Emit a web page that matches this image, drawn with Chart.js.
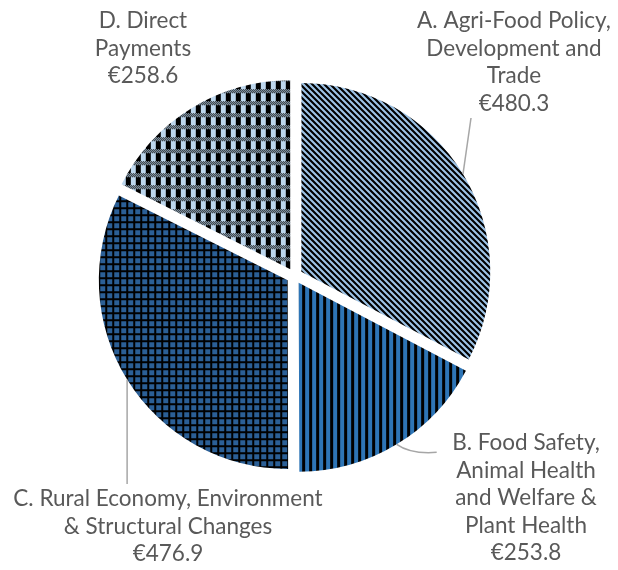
<!DOCTYPE html>
<html>
<head>
<meta charset="utf-8">
<script src="https://cdn.jsdelivr.net/npm/chart.js@4"></script>
<style>
  html, body { margin: 0; padding: 0; background: #fff; }
  #wrap { width: 618px; height: 570px; position: relative; }
</style>
</head>
<body>
<div id="wrap"><canvas id="budget-pie"></canvas></div>
<script>
// Budget by programme (€m)
const categories = ['A', 'B', 'C', 'D'];
const categoryLines = [
    ['A. Agri-Food Policy,', 'Development and', 'Trade'],
    ['B. Food Safety,', 'Animal Health', 'and Welfare &', 'Plant Health'],
    ['C. Rural Economy, Environment', '& Structural Changes'],
    ['D. Direct', 'Payments']
];
const values = [480.3, 253.8, 476.9, 258.6];

// small repeating tiles used as slice fills
function makeTile(w, h, paint) {
    const c = document.createElement('canvas');
    c.width = w; c.height = h;
    const g = c.getContext('2d');
    for (let y = 0; y < h; y++) {
        for (let x = 0; x < w; x++) {
            g.fillStyle = paint(x, y);
            g.fillRect(x, y, 1, 1);
        }
    }
    return g.createPattern(c, 'repeat');
}

const BLACK = '#000000';
const diagTile = makeTile(6, 6, (x, y) => ((x - y + 12) % 6) < 3 ? BLACK : '#9DC3E6');
const vertTile = makeTile(7, 1, (x) => x < 4 ? '#2E75B6' : BLACK);
const gridTile = makeTile(7, 7, (x, y) => (x < 2 || y < 2) ? BLACK : '#2B5F96');
const plaidTile = makeTile(10, 12, (x, y) => {
    if (y < 4) return (x + y) % 2 ? BLACK : '#BDD7EE';
    return x < 5 ? BLACK : '#BDD7EE';
});

// where each label block sits: centre x, middle of first line y
const labelSpots = [
    { x: 514, y: 21 },
    { x: 526, y: 443 },
    { x: 168, y: 499 },
    { x: 143, y: 21 }
];
const LINE_H = 27.5;

const labelPlugin = {
    id: 'outerLabels',
    afterDraw(chart) {
        const ctx = chart.ctx;
        const arcs = chart.getDatasetMeta(0).data;
        ctx.save();

        // leader lines start at the middle of each slice's rim
        const rim = arcs.map(a => {
            const mid = (a.startAngle + a.endAngle) / 2;
            const circ = a.endAngle - a.startAngle;
            const off = (a.options.offset || 0) / 4;
            const shift = off * (1 + (1 - Math.sin(Math.min(Math.PI, circ))));
            return {
                x: a.x + Math.cos(mid) * (shift + a.outerRadius),
                y: a.y + Math.sin(mid) * (shift + a.outerRadius)
            };
        });
        ctx.strokeStyle = '#A6A6A6';
        ctx.lineWidth = 1.5;

        ctx.beginPath();
        ctx.moveTo(rim[0].x, rim[0].y);
        ctx.lineTo(471, 118);
        ctx.stroke();

        ctx.beginPath();
        ctx.moveTo(rim[1].x, rim[1].y);
        ctx.quadraticCurveTo(rim[1].x + 14, rim[1].y + 10, rim[1].x + 40, rim[1].y + 8);
        ctx.stroke();

        ctx.beginPath();
        ctx.moveTo(rim[2].x, rim[2].y);
        ctx.lineTo(rim[2].x, 484);
        ctx.stroke();

        ctx.fillStyle = '#595959';
        ctx.font = '22.5px Lato';
        ctx.textAlign = 'center';
        ctx.textBaseline = 'middle';
        categoryLines.forEach((lines, i) => {
            const all = lines.concat(['€' + values[i].toFixed(1)]);
            all.forEach((t, j) => {
                ctx.fillText(t, labelSpots[i].x, labelSpots[i].y + j * LINE_H);
            });
        });
        ctx.restore();
    }
};

new Chart(document.getElementById('budget-pie'), {
    type: 'pie',
    data: {
        labels: categories,
        datasets: [{
            data: values,
            backgroundColor: [diagTile, vertTile, gridTile, plaidTile],
            borderWidth: 0,
            offset: 32,
            hoverOffset: 32
        }]
    },
    options: {
        responsive: true,
        maintainAspectRatio: false,
        animation: false,
        radius: 188,
        layout: { padding: { left: 20, right: 49, top: 20, bottom: 38 } },
        plugins: {
            legend: { display: false },
            tooltip: { enabled: false }
        }
    },
    plugins: [labelPlugin]
});
</script>
</body>
</html>
